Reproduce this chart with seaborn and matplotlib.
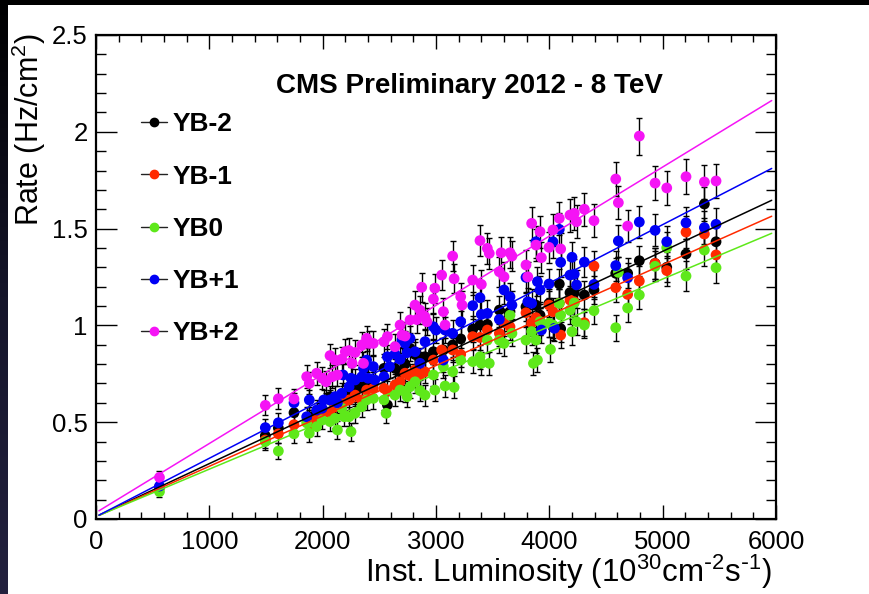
import numpy as np
import pandas as pd
import matplotlib
matplotlib.use("Agg")
import matplotlib.pyplot as plt
from matplotlib.lines import Line2D
from matplotlib.ticker import MultipleLocator, FuncFormatter
import seaborn as sns

# ---------------------------------------------------------------- data
# Instantaneous luminosity (1e30 cm^-2 s^-1) and hit rate (Hz/cm^2) per wheel
lumi_ybm2 = [560, 1494, 1609, 1747, 1882, 1947, 1995, 2065, 2109, 2168, 2233, 2286,
             2345, 2388, 2447, 2541, 2571, 2638, 2683, 2727, 2771, 2815, 2859, 2903,
             2977, 3065, 3147, 3218, 3324, 3388, 3453, 3559, 3653, 3794, 3882, 3918,
             3997, 4032, 4088, 4100, 4182, 4220, 4309, 4394, 4586, 4691, 4794, 4933,
             5036, 5206, 5368, 5471]
rate_ybm2 = [0.163, 0.43, 0.47, 0.549, 0.528, 0.55, 0.56, 0.632, 0.60, 0.62, 0.649, 0.66,
             0.683, 0.718, 0.70, 0.778, 0.589, 0.778, 0.76, 0.80, 0.882, 0.85, 0.82, 0.838,
             0.864, 0.873, 0.899, 0.93, 0.98, 1.002, 1.005, 1.079, 1.071, 1.096, 1.105, 1.053,
             1.114, 0.993, 1.214, 0.983, 1.169, 1.169, 1.157, 1.183, 1.269, 1.269, 1.334, 1.32,
             1.30, 1.369, 1.627, 1.432]

lumi_ybm1 = [560, 1494, 1609, 1747, 1882, 1947, 1995, 2065, 2109, 2168, 2233, 2286,
             2345, 2388, 2447, 2541, 2571, 2638, 2683, 2727, 2771, 2815, 2859, 2903,
             2977, 3050, 3147, 3218, 3324, 3388, 3453, 3559, 3600, 3653, 3794, 3844,
             3882, 3918, 3997, 4032, 4088, 4100, 4182, 4220, 4309, 4394, 4586, 4691,
             4794, 4933, 5036, 5206, 5368, 5471]
rate_ybm1 = [0.163, 0.408, 0.44, 0.487, 0.489, 0.52, 0.546, 0.546, 0.58, 0.598, 0.615, 0.64,
             0.615, 0.666, 0.675, 0.675, 0.66, 0.692, 0.709, 0.753, 0.74, 0.77, 0.744, 0.76,
             0.821, 0.873, 0.873, 0.85, 0.942, 0.938, 0.976, 0.959, 1.014, 0.993, 1.065, 1.014,
             1.04, 1.02, 1.105, 1.071, 1.114, 0.95, 1.131, 1.122, 1.014, 1.307, 1.195, 1.16,
             1.229, 1.32, 1.283, 1.482, 1.472, 1.364]

lumi_yb0 = [560, 1494, 1609, 1747, 1859, 1882, 1947, 1995, 2065, 2109, 2130, 2168,
            2190, 2233, 2250, 2286, 2345, 2388, 2447, 2541, 2560, 2638, 2683, 2727,
            2745, 2771, 2815, 2859, 2903, 2977, 2990, 3065, 3080, 3147, 3160, 3218,
            3324, 3388, 3400, 3453, 3470, 3559, 3600, 3653, 3670, 3794, 3844, 3860,
            3882, 3895, 3918, 3997, 4010, 4032, 4088, 4100, 4182, 4200, 4220, 4240,
            4309, 4394, 4586, 4609, 4691, 4794, 4933, 5036, 5206, 5368, 5471]
rate_yb0 = [0.141, 0.40, 0.351, 0.44, 0.497, 0.443, 0.477, 0.511, 0.503, 0.52, 0.46, 0.572,
            0.528, 0.528, 0.451, 0.546, 0.58, 0.615, 0.623, 0.615, 0.546, 0.64, 0.666, 0.657,
            0.632, 0.683, 0.709, 0.663, 0.64, 0.744, 0.666, 0.787, 0.687, 0.761, 0.68, 0.821,
            0.813, 0.838, 0.804, 0.924, 0.804, 0.924, 0.907, 1.053, 0.959, 0.924, 0.968, 0.804,
            0.924, 0.821, 1.019, 1.011, 0.876, 1.002, 1.114, 1.053, 1.079, 0.968, 1.116, 1.019,
            1.002, 1.076, 0.988, 1.274, 1.09, 1.157, 1.305, 1.401, 1.255, 1.389, 1.298]

lumi_ybp1 = [560, 1494, 1609, 1747, 1859, 1882, 1947, 1995, 2010, 2065, 2109, 2130,
             2168, 2180, 2233, 2250, 2286, 2345, 2360, 2388, 2400, 2447, 2460, 2541,
             2571, 2590, 2638, 2683, 2700, 2727, 2745, 2771, 2815, 2859, 2903, 2977,
             3000, 3065, 3080, 3147, 3218, 3324, 3388, 3400, 3453, 3559, 3600, 3653,
             3670, 3794, 3810, 3844, 3882, 3895, 3918, 3930, 3997, 4032, 4045, 4088,
             4100, 4182, 4200, 4220, 4240, 4309, 4394, 4586, 4609, 4691, 4794, 4933,
             5036, 5206, 5368, 5471]
rate_ybp1 = [0.17, 0.472, 0.497, 0.60, 0.528, 0.615, 0.563, 0.572, 0.615, 0.615, 0.632, 0.60,
             0.649, 0.744, 0.683, 0.727, 0.718, 0.735, 0.778, 0.821, 0.727, 0.787, 0.718, 0.735,
             0.838, 0.787, 0.852, 0.825, 0.925, 0.907, 0.859, 0.933, 0.864, 0.804, 0.916, 0.993,
             0.976, 0.821, 0.976, 0.959, 1.019, 1.102, 1.143, 1.057, 1.062, 1.031, 1.183, 1.148,
             1.105, 1.248, 1.122, 1.114, 1.432, 1.226, 1.183, 0.976, 1.214, 1.432, 0.985, 1.496,
             1.326, 1.26, 1.352, 1.265, 1.209, 1.327, 1.212, 1.309, 1.436, 1.246, 1.534, 1.491,
             1.432, 1.53, 1.505, 1.522]

lumi_ybp2 = [560, 1494, 1609, 1747, 1859, 1882, 1947, 1995, 2030, 2065, 2085, 2109,
             2130, 2168, 2200, 2233, 2260, 2286, 2345, 2360, 2388, 2410, 2447, 2541,
             2571, 2638, 2683, 2700, 2727, 2771, 2815, 2830, 2859, 2874, 2903, 2920,
             2977, 2990, 3050, 3065, 3080, 3147, 3160, 3218, 3230, 3324, 3388, 3400,
             3453, 3470, 3559, 3575, 3600, 3653, 3670, 3794, 3810, 3844, 3882, 3918,
             3930, 3997, 4032, 4088, 4100, 4182, 4220, 4240, 4309, 4394, 4586, 4609,
             4691, 4794, 4933, 5036, 5206, 5368, 5471]
rate_ybp2 = [0.215, 0.587, 0.621, 0.62, 0.735, 0.70, 0.753, 0.727, 0.709, 0.844, 0.735, 0.821,
             0.744, 0.826, 0.864, 0.87, 0.804, 0.86, 0.899, 0.804, 0.933, 0.907, 0.907, 0.916,
             0.942, 0.89, 1.002, 0.95, 0.945, 1.028, 1.105, 1.03, 1.079, 1.197, 1.045, 1.019,
             1.136, 1.192, 1.26, 1.071, 1.002, 1.358, 1.241, 1.148, 1.105, 1.234, 1.438, 1.212,
             1.398, 1.372, 1.277, 1.375, 1.251, 1.375, 1.358, 1.312, 1.251, 1.527, 1.415, 1.484,
             1.35, 1.403, 1.493, 1.553, 1.395, 1.57, 1.579, 1.536, 1.60, 1.541, 1.756, 1.634,
             1.513, 1.978, 1.735, 1.71, 1.768, 1.741, 1.746]

# statistical uncertainty scale: sigma = ERR_SCALE * sqrt(rate)
ERR_SCALE = 0.068

# linear fit results per wheel: rate = p0 + p1 * lumi
wheels = ["YB-2", "YB-1", "YB0", "YB+1", "YB+2"]
fit_p0 = [0.012, 0.012, 0.012, 0.012, 0.033]
fit_p1 = [2.741e-4, 2.603e-4, 2.455e-4, 3.017e-4, 3.570e-4]
fit_range = [26, 5962]

# ---------------------------------------------------------------- style
colors = {"YB-2": "#000000", "YB-1": "#ff2a00", "YB0": "#5ee81a",
          "YB+1": "#0000f5", "YB+2": "#f514f5"}

sns.set_theme(style="ticks")
plt.rcParams["font.family"] = ["Liberation Sans", "DejaVu Sans"]
plt.rcParams["mathtext.default"] = "regular"

frames = []
for name, lx, ly in zip(wheels,
                        [lumi_ybm2, lumi_ybm1, lumi_yb0, lumi_ybp1, lumi_ybp2],
                        [rate_ybm2, rate_ybm1, rate_yb0, rate_ybp1, rate_ybp2]):
    frames.append(pd.DataFrame({"lumi": lx, "rate": ly, "wheel": name}))
df = pd.concat(frames, ignore_index=True)
df["err"] = ERR_SCALE * np.sqrt(df["rate"])

fig = plt.figure(figsize=(8.70, 5.94), dpi=100)
fig.patch.set_facecolor("white")

# dark border strips along the top and the left side
strip_top = fig.add_axes([0, 1 - 5 / 594, 1, 5 / 594])
strip_top.set_axis_off()
strip_top.add_patch(plt.Rectangle((0, 0), 1, 1, color="black", transform=strip_top.transAxes))
strip_left = fig.add_axes([0, 0, 8 / 870, 1])
strip_left.set_axis_off()
grad = np.linspace(0, 1, 256).reshape(-1, 1)
strip_left.imshow(grad, aspect="auto", extent=[0, 1, 0, 1], origin="upper",
                  cmap=matplotlib.colors.LinearSegmentedColormap.from_list(
                      "edge", ["#000000", "#15152a", "#24223f"]))

ax = fig.add_axes([96 / 870, 75 / 594, 680 / 870, 484 / 594])
ax.set_facecolor("white")

for name, p0, p1 in zip(wheels, fit_p0, fit_p1):
    sub = df[df["wheel"] == name]
    ax.errorbar(sub["lumi"], sub["rate"], yerr=sub["err"], fmt="none",
                ecolor="black", elinewidth=1.0, capsize=2.2, capthick=1.0, zorder=2)
    sns.scatterplot(data=sub, x="lumi", y="rate", color=colors[name], s=60,
                    linewidth=0, edgecolor="none", ax=ax, zorder=3, legend=False)
    xf = np.array(fit_range, dtype=float)
    ax.plot(xf, p0 + p1 * xf, color=colors[name], lw=1.1, zorder=4)

ax.set_xlim(0, 6000)
ax.set_ylim(0, 2.5)

for side in ["left", "right", "top", "bottom"]:
    ax.spines[side].set_visible(True)
    ax.spines[side].set_linewidth(1.6)
    ax.spines[side].set_color("black")

ax.xaxis.set_major_locator(MultipleLocator(1000))
ax.xaxis.set_minor_locator(MultipleLocator(200))
ax.yaxis.set_major_locator(MultipleLocator(0.5))
ax.yaxis.set_minor_locator(MultipleLocator(0.1))
ax.yaxis.set_major_formatter(FuncFormatter(lambda v, p: f"{v:g}"))
ax.tick_params(axis="both", which="both", direction="in", top=True, right=True,
               color="black", width=1.0, labelsize=18.5, labelcolor="black")
ax.tick_params(axis="x", which="major", length=10, pad=8)
ax.tick_params(axis="x", which="minor", length=5)
ax.tick_params(axis="y", which="major", length=15, pad=6)
ax.tick_params(axis="y", which="minor", length=7.5)
ax.set_xlabel("")
ax.set_ylabel("")

# axis titles, ROOT style: flush with the far end of each axis
fig.text(772 / 870, 1 - 572 / 594,
         r"Inst. Luminosity (10$^{30}$cm$^{\text{-}2}$s$^{\text{-}1}$)",
         ha="right", va="center", fontsize=22.5, color="black")
fig.text(29 / 870, 1 - 33 / 594, r"Rate (Hz/cm$^{2}$)", rotation=90,
         ha="center", va="top", fontsize=22, color="black")

ax.text(0.549, 0.895, "CMS Preliminary 2012 - 8 TeV", transform=ax.transAxes,
        ha="center", va="center", fontsize=20, fontweight="bold", color="black")

handles = [Line2D([0], [0], color="#222222", lw=1.0, marker="o", markersize=6,
                  markerfacecolor=colors[n], markeredgecolor=colors[n]) for n in wheels]
leg = ax.legend(handles, wheels, loc="upper left", bbox_to_anchor=(0.066, 0.840),
                frameon=False, fontsize=19, handlelength=1.0, handletextpad=0.2,
                labelspacing=1.07, borderpad=0, borderaxespad=0)
for t in leg.get_texts():
    t.set_fontweight("bold")
    t.set_color("black")

fig.savefig("out.png", dpi=100, facecolor="white")
